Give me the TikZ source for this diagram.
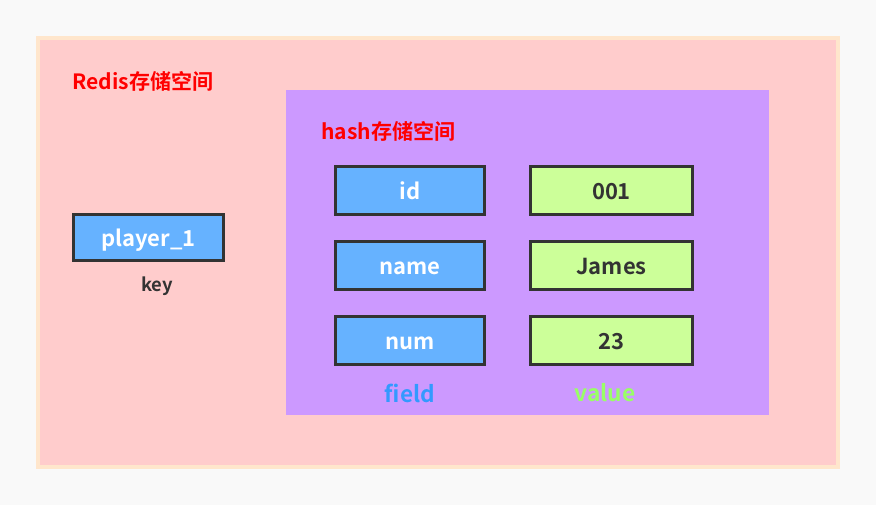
\documentclass[tikz,border=0pt]{standalone}
\usepackage{fontspec}
\setmainfont{Noto Sans CJK SC}[BoldFont={Noto Sans CJK SC Bold}]
\definecolor{bgc}{HTML}{F9F9F9}
\definecolor{outerfill}{HTML}{FFCCCC}
\definecolor{outerline}{HTML}{FFE6CC}
\definecolor{purp}{HTML}{CC99FF}
\definecolor{bluef}{HTML}{66B2FF}
\definecolor{greenf}{HTML}{CCFF99}
\definecolor{dark}{HTML}{333333}
\definecolor{fieldc}{HTML}{3399FF}
\definecolor{valuec}{HTML}{99FF66}
\newcommand{\lowtxt}[1]{\raisebox{-6.6pt}[0pt][0pt]{#1}}
\begin{document}
\begin{tikzpicture}[x=0.75pt,y=-0.75pt,
  keybox/.style={draw=dark,line width=2.2pt,fill=bluef,text=white,font=\bfseries\fontsize{16.5}{18}\selectfont,minimum width=112pt,minimum height=36pt,inner sep=0pt},
  valbox/.style={draw=dark,line width=2.2pt,fill=greenf,text=dark,font=\bfseries\fontsize{16.5}{18}\selectfont,minimum width=122pt,minimum height=36pt,inner sep=0pt},
  title/.style={text=red,font=\bfseries\fontsize{15.8}{17}\selectfont,anchor=west,inner sep=0pt},
  lbl/.style={font=\bfseries\fontsize{17}{19}\selectfont,inner sep=0pt}]
\fill[bgc] (0,0) rectangle (876,505);
\useasboundingbox (0,0) rectangle (876,505);
\draw[fill=outerfill,draw=outerline,line width=2.4pt] (38,38) rectangle (838,467);
\node[title] (redis) at (72,81) {Redis存储空间};
\fill[purp] (286,90) rectangle (769,415);
\node[title] (hash) at (321,131) {hash存储空间};
\node[keybox,minimum width=113pt,minimum height=35pt] (player) at (148.5,237.5) {\lowtxt{player\_1}};
\node[lbl,text=dark,font=\bfseries\fontsize{13.8}{15}\selectfont] (key) at (157,286) {key};
\node[keybox] (id) at (410,190.5) {\lowtxt{id}};
\node[valbox] (v1) at (611.5,190.5) {\lowtxt{001}};
\node[keybox] (name) at (410,265.5) {\lowtxt{name}};
\node[valbox] (v2) at (611.5,265.5) {\lowtxt{James}};
\node[keybox] (num) at (410,340.5) {\lowtxt{num}};
\node[valbox] (v3) at (611.5,340.5) {\lowtxt{23}};
\node[lbl,text=fieldc] (field) at (410,393) {field};
\node[lbl,text=valuec] (value) at (605,393) {value};
\end{tikzpicture}
\end{document}
